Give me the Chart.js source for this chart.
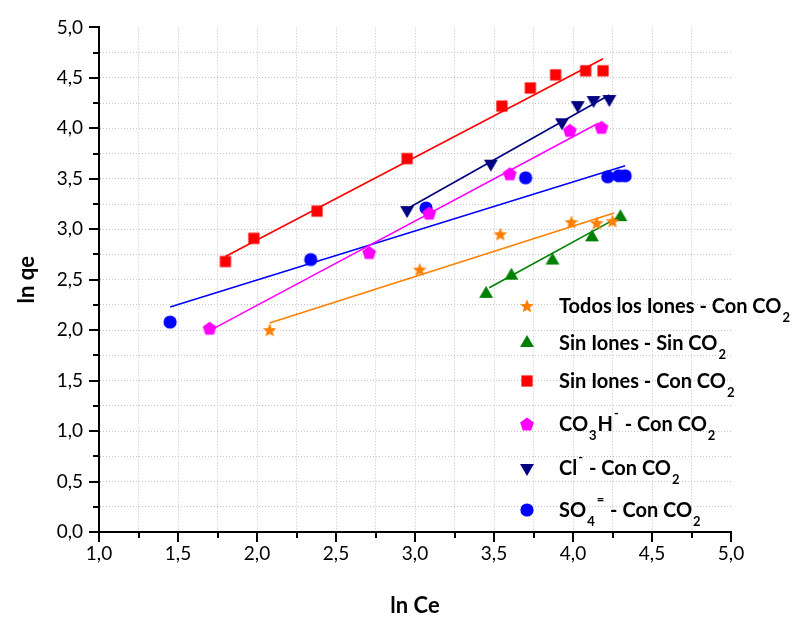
<!DOCTYPE html>
<html>
<head>
<meta charset="utf-8">
<script src="https://cdn.jsdelivr.net/npm/chart.js"></script>
<style>
  html, body { margin: 0; padding: 0; background: #fff; }
  #wrap { width: 797px; height: 622px; }
</style>
</head>
<body>
<div id="wrap"><canvas id="isoChart" width="797" height="622"></canvas></div>
<script>
// valeurs (ln Ce / ln qe)
const todosX = [2.08, 3.03, 3.54, 3.99, 4.15, 4.25];
const todosY = [2.00, 2.60, 2.95, 3.07, 3.06, 3.08];
const sinSinX = [3.45, 3.61, 3.87, 4.12, 4.30];
const sinSinY = [2.36, 2.54, 2.69, 2.92, 3.12];
const sinConX = [1.80, 1.98, 2.38, 2.95, 3.55, 3.73, 3.89, 4.08, 4.19];
const sinConY = [2.68, 2.91, 3.18, 3.70, 4.22, 4.40, 4.53, 4.57, 4.57];
const co3hX = [1.70, 2.71, 3.09, 3.60, 3.98, 4.18];
const co3hY = [2.02, 2.77, 3.16, 3.55, 3.98, 4.01];
const clX = [2.95, 3.48, 3.93, 4.03, 4.13, 4.23];
const clY = [3.19, 3.65, 4.06, 4.23, 4.28, 4.29];
const so4X = [1.45, 2.34, 3.07, 3.70, 4.22, 4.29, 4.33];
const so4Y = [2.08, 2.70, 3.21, 3.51, 3.52, 3.53, 3.53];

// droites d'ajustement (extremites)
const fitTodosX = [2.08, 4.26];
const fitTodosY = [2.07, 3.16];
const fitSinSinX = [3.47, 4.30];
const fitSinSinY = [2.42, 3.13];
const fitSinConX = [1.80, 4.19];
const fitSinConY = [2.73, 4.69];
const fitCo3hX = [1.73, 4.16];
const fitCo3hY = [2.02, 4.05];
const fitClX = [2.97, 4.23];
const fitClY = [3.22, 4.33];
const fitSo4X = [1.45, 4.33];
const fitSo4Y = [2.23, 3.63];

// etiquettes de la legende : [texte, 'n' | 'sub' | 'sup']
const legendLabels = [
  [['Todos los Iones - Con CO', 'n'], ['2', 'sub']],
  [['Sin Iones - Sin CO', 'n'], ['2', 'sub']],
  [['Sin Iones - Con CO', 'n'], ['2', 'sub']],
  [['CO', 'n'], ['3', 'sub'], ['H', 'n'], ['-', 'sup'], [' - Con CO', 'n'], ['2', 'sub']],
  [['Cl', 'n'], ['-', 'sup'], [' - Con CO', 'n'], ['2', 'sub']],
  [['SO', 'n'], ['4', 'sub'], ['=', 'sup'], [' - Con CO', 'n'], ['2', 'sub']]
];

const colOrange = '#FF8000';
const colGreen = '#008000';
const colRed = '#FF0000';
const colMagenta = '#FF00FF';
const colNavy = '#000080';
const colBlue = '#0000FF';

// fabrique des marqueurs (canvas)
function makeMarker(shape, color) {
  const s = 20;
  const c = document.createElement('canvas');
  c.width = s; c.height = s;
  const g = c.getContext('2d');
  const cx = s / 2, cy = s / 2;
  g.fillStyle = color;
  g.beginPath();
  if (shape === 'star') {
    const r = 7.2;
    for (let i = 0; i < 10; i++) {
      const rad = i % 2 ? r * 0.45 : r;
      const a = -Math.PI / 2 + i * Math.PI / 5;
      g.lineTo(cx + rad * Math.cos(a), cy + 0.5 + rad * Math.sin(a));
    }
  } else if (shape === 'pentagon') {
    const r = 7.2;
    for (let i = 0; i < 5; i++) {
      const a = -Math.PI / 2 + i * 2 * Math.PI / 5;
      g.lineTo(cx + r * Math.cos(a), cy + 0.6 + r * Math.sin(a));
    }
  } else if (shape === 'triUp' || shape === 'triDown') {
    const r = 8;
    const base = shape === 'triUp' ? -Math.PI / 2 : Math.PI / 2;
    for (let i = 0; i < 3; i++) {
      const a = base + i * 2 * Math.PI / 3;
      g.lineTo(cx + r * Math.cos(a), cy + r * Math.sin(a));
    }
  } else if (shape === 'square') {
    g.rect(cx - 5.6, cy - 5.6, 11.2, 11.2);
  } else {
    g.arc(cx, cy, 6.6, 0, Math.PI * 2);
  }
  g.closePath();
  g.fill();
  return c;
}

const mkStar = makeMarker('star', colOrange);
const mkTriUp = makeMarker('triUp', colGreen);
const mkSquare = makeMarker('square', colRed);
const mkPent = makeMarker('pentagon', colMagenta);
const mkTriDown = makeMarker('triDown', colNavy);
const mkCircle = makeMarker('circle', colBlue);
const legendMarkers = [mkStar, mkTriUp, mkSquare, mkPent, mkTriDown, mkCircle];

function toPts(xs, ys) {
  return xs.map((x, i) => ({ x: x, y: ys[i] }));
}

function isMajor(v) {
  return Math.abs(v * 2 - Math.round(v * 2)) < 1e-6;
}

function fmt(v) {
  return v.toFixed(1).replace('.', ',');
}

function pointSet(xs, ys, marker) {
  return { type: 'scatter', data: toPts(xs, ys), pointStyle: marker, pointRadius: 8, pointHoverRadius: 8, showLine: false };
}

function fitSet(xs, ys, color) {
  return { type: 'line', data: toPts(xs, ys), borderColor: color, borderWidth: 1.6, pointRadius: 0, fill: false, tension: 0 };
}

// petits traits de graduation (majeurs / mineurs)
const tickMarks = {
  id: 'tickMarks',
  afterDraw(chart) {
    const { ctx, chartArea: a } = chart;
    const sx = chart.scales.x, sy = chart.scales.y;
    ctx.save();
    ctx.strokeStyle = '#000';
    ctx.lineWidth = 2;
    sx.ticks.forEach(t => {
      const px = Math.round(sx.getPixelForValue(t.value));
      const len = isMajor(t.value) ? 10 : 6;
      ctx.beginPath();
      ctx.moveTo(px, a.bottom);
      ctx.lineTo(px, a.bottom + len);
      ctx.stroke();
    });
    sy.ticks.forEach(t => {
      const py = Math.round(sy.getPixelForValue(t.value));
      const len = isMajor(t.value) ? 10 : 6;
      ctx.beginPath();
      ctx.moveTo(a.left, py);
      ctx.lineTo(a.left - len, py);
      ctx.stroke();
    });
    ctx.restore();
  }
};

// legende avec indices / exposants
const richLegend = {
  id: 'richLegend',
  afterDraw(chart) {
    const ctx = chart.ctx;
    const rows = [306, 343, 381, 424, 468, 510];
    const mx = 527, tx = 559;
    ctx.save();
    ctx.fillStyle = '#000';
    ctx.textBaseline = 'alphabetic';
    ctx.textAlign = 'left';
    legendLabels.forEach((runs, i) => {
      const y = rows[i];
      const m = legendMarkers[i];
      ctx.drawImage(m, mx - m.width / 2, y - m.height / 2);
      let x = tx;
      const base = y + 7;
      runs.forEach(([txt, kind]) => {
        if (kind === 'n') {
          ctx.font = 'bold 20px Lato';
          ctx.fillText(txt, x, base);
        } else if (kind === 'sub') {
          ctx.font = 'bold 13px Lato';
          ctx.fillText(txt, x + 1, base + 9);
        } else {
          ctx.font = 'bold 13px Lato';
          ctx.fillText(txt, x + 1, base - 13);
        }
        x += ctx.measureText(txt).width + (kind === 'n' ? 0 : 2);
      });
    });
    ctx.restore();
  }
};

Chart.defaults.font.family = 'Lato';
Chart.defaults.color = '#000';

const gridColor = c => (c.tick && Math.abs(c.tick.value - 5) < 1e-6) ? 'rgba(0,0,0,0)' : '#c4c4c4';

const ctxIso = document.getElementById('isoChart').getContext('2d');
new Chart(ctxIso, {
  type: 'scatter',
  data: {
    datasets: [
      pointSet(todosX, todosY, mkStar),
      pointSet(sinSinX, sinSinY, mkTriUp),
      pointSet(sinConX, sinConY, mkSquare),
      pointSet(co3hX, co3hY, mkPent),
      pointSet(clX, clY, mkTriDown),
      pointSet(so4X, so4Y, mkCircle),
      fitSet(fitTodosX, fitTodosY, colOrange),
      fitSet(fitSinSinX, fitSinSinY, colGreen),
      fitSet(fitSinConX, fitSinConY, colRed),
      fitSet(fitCo3hX, fitCo3hY, colMagenta),
      fitSet(fitClX, fitClY, colNavy),
      fitSet(fitSo4X, fitSo4Y, colBlue)
    ]
  },
  options: {
    responsive: false,
    animation: false,
    layout: { padding: { top: 21, right: 66, left: 0, bottom: 0 } },
    plugins: {
      legend: { display: false },
      tooltip: { enabled: false }
    },
    scales: {
      x: {
        type: 'linear',
        min: 1, max: 5,
        ticks: {
          stepSize: 0.25, autoSkip: false, maxRotation: 0, padding: 10,
          font: { size: 19 },
          callback: v => isMajor(v) ? fmt(v) : ''
        },
        grid: { drawTicks: false, color: gridColor, lineWidth: 1 },
        border: { display: true, color: '#000', width: 2, dash: [1, 2] },
        title: { display: true, text: 'ln Ce', font: { size: 22, weight: 'bold' }, padding: { top: 0, bottom: 3 } },
        afterFit: s => { s.height = 90; }
      },
      y: {
        type: 'linear',
        min: 0, max: 5,
        ticks: {
          stepSize: 0.25, autoSkip: false, padding: 16,
          font: { size: 19 },
          callback: v => isMajor(v) ? fmt(v) : ''
        },
        grid: { drawTicks: false, color: gridColor, lineWidth: 1 },
        border: { display: true, color: '#000', width: 2, dash: [1, 2] },
        title: { display: true, text: 'ln qe', font: { size: 22, weight: 'bold' }, padding: { top: 14, bottom: 0 } },
        afterFit: s => { s.width = 99; }
      }
    }
  },
  plugins: [tickMarks, richLegend]
});
</script>
</body>
</html>
